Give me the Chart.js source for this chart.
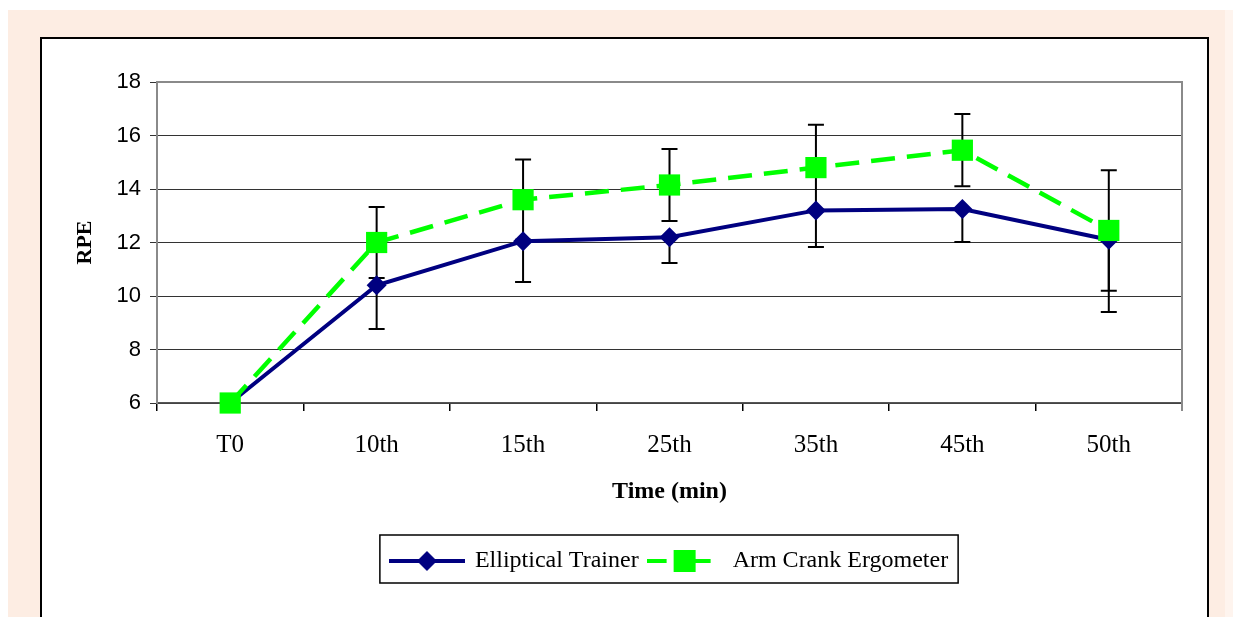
<!DOCTYPE html>
<html>
<head>
<meta charset="utf-8">
<script src="https://cdn.jsdelivr.net/npm/chart.js@4.4.1/dist/chart.umd.min.js"></script>
<style>
  body { margin: 0; background: #fff; width: 1234px; height: 617px; overflow: hidden; position: relative; }
  #peach { position: absolute; left: 8px; top: 10px; width: 1217px; height: 607px; background: #fdede3; }
  #peach2 { position: absolute; left: 1225px; top: 10px; width: 8px; height: 607px; background: #fef4ee; }
  #frame { position: absolute; left: 40px; top: 37px; width: 1169px; height: 620px; box-sizing: border-box; border: 2px solid #000; background: #fff; }
  #wrap { position: absolute; left: 42px; top: 39px; width: 1165px; height: 578px; }
</style>
</head>
<body>
<div id="peach"></div>
<div id="peach2"></div>
<div id="frame"></div>
<div id="wrap"><canvas id="myChart" width="1165" height="578"></canvas></div>
<script>
// values
var labels = ["T0", "10th", "15th", "25th", "35th", "45th", "50th"];
var elliptical = [6, 10.4, 12.05, 12.2, 13.2, 13.25, 12.1];
var ellipticalSD = [0, 1.63, 1.53, 0.97, 1.37, 1.23, 2.7];
var armCrank = [6, 12.0, 13.6, 14.15, 14.8, 15.45, 12.45];
var armCrankSD = [0, 1.33, 1.5, 1.35, 1.6, 1.35, 2.25];
var yTicks = [6, 8, 10, 12, 14, 16, 18];

var NAVY = "#000080";
var GREEN = "#00ff00";
var serif = "'Liberation Serif', 'Times New Roman', serif";
var sans = "'Liberation Sans', Arial, sans-serif";

// little line + marker pictures for the legend
function legendIcon(color, dash, marker) {
  var c = document.createElement("canvas");
  c.width = 76;
  c.height = 26;
  var g = c.getContext("2d");
  g.strokeStyle = color;
  g.lineWidth = 4;
  g.setLineDash(dash);
  g.beginPath();
  g.moveTo(0, 13);
  g.lineTo(76, 13);
  g.stroke();
  g.fillStyle = color;
  if (marker == "diamond") {
    g.beginPath();
    g.moveTo(38, 3);
    g.lineTo(48, 13);
    g.lineTo(38, 23);
    g.lineTo(28, 13);
    g.closePath();
    g.fill();
  } else {
    g.fillRect(27, 2, 22, 22);
  }
  return c;
}
var iconEll = legendIcon(NAVY, [], "diamond");
var iconArm = legendIcon(GREEN, [20, 24], "square");

// error bars, drawn under the lines and markers
var errorBars = {
  id: "errorBars",
  beforeDatasetsDraw: function (chart) {
    var ctx = chart.ctx;
    var a = chart.chartArea;
    var yScale = chart.scales.y;

    // grey plot frame
    ctx.save();
    ctx.strokeStyle = "#8a8a8a";
    ctx.lineWidth = 2;
    ctx.beginPath();
    ctx.moveTo(a.left, a.top);
    ctx.lineTo(a.right, a.top);
    ctx.lineTo(a.right, a.bottom + 8);
    ctx.stroke();
    ctx.restore();

    ctx.save();
    ctx.strokeStyle = "#000";
    ctx.lineWidth = 2;
    chart.data.datasets.forEach(function (ds, di) {
      var meta = chart.getDatasetMeta(di);
      ds.data.forEach(function (v, i) {
        var sd = ds.sd[i];
        if (!sd) return;
        var x = meta.data[i].x;
        var y0 = yScale.getPixelForValue(v);
        var yLo = yScale.getPixelForValue(v - sd);
        var yHi = yScale.getPixelForValue(v + sd);
        ctx.beginPath();
        ctx.moveTo(x, yLo);
        ctx.lineTo(x, ds.errPlus ? yHi : y0);
        ctx.moveTo(x - 8, yLo);
        ctx.lineTo(x + 8, yLo);
        if (ds.errPlus) {
          ctx.moveTo(x - 8, yHi);
          ctx.lineTo(x + 8, yHi);
        }
        ctx.stroke();
      });
    });
    ctx.restore();
  },
  afterDraw: function (chart) {
    // box round the legend
    var boxes = chart.legend.legendHitBoxes;
    if (!boxes || !boxes.length) return;
    var first = boxes[0];
    var last = boxes[boxes.length - 1];
    var ctx = chart.ctx;
    ctx.save();
    ctx.strokeStyle = "#000";
    ctx.lineWidth = 1.5;
    ctx.strokeRect(first.left - 11, first.top - 14, last.left + last.width - first.left + 21, first.height + 24);
    ctx.restore();
  }
};

var ctx = document.getElementById("myChart").getContext("2d");
var myChart = new Chart(ctx, {
  type: "line",
  data: {
    labels: labels,
    datasets: [
      {
        label: "Elliptical Trainer",
        data: elliptical,
        sd: ellipticalSD,
        errPlus: false,
        borderColor: NAVY,
        backgroundColor: NAVY,
        borderWidth: 4,
        pointStyle: "rectRot",
        pointRadius: 10,
        pointHoverRadius: 10,
        pointBorderWidth: 0,
        tension: 0,
        clip: false,
        order: 1
      },
      {
        label: "Arm Crank Ergometer",
        data: armCrank,
        sd: armCrankSD,
        errPlus: true,
        borderColor: GREEN,
        backgroundColor: GREEN,
        borderWidth: 4.5,
        borderDash: [24, 12],
        pointStyle: "rect",
        pointRadius: 15,
        pointHoverRadius: 15,
        pointBorderWidth: 0,
        tension: 0,
        clip: false,
        order: 0
      }
    ]
  },
  options: {
    responsive: false,
    animation: false,
    layout: { padding: { top: 43, right: 25, left: 0, bottom: 34 } },
    plugins: {
      tooltip: { enabled: false },
      legend: {
        position: "bottom",
        fullSize: false,
        labels: {
          usePointStyle: true,
          pointStyleWidth: 72,
          padding: 10,
          color: "#000",
          font: { family: serif, size: 24 },
          generateLabels: function (chart) {
            return [
              { text: "Elliptical Trainer", pointStyle: iconEll, datasetIndex: 0, hidden: false, lineWidth: 0 },
              { text: "Arm Crank Ergometer", pointStyle: iconArm, datasetIndex: 1, hidden: false, lineWidth: 0 }
            ];
          }
        }
      }
    },
    scales: {
      x: {
        offset: true,
        afterFit: function (axis) { axis.height = 136; },
        grid: { offset: true, drawOnChartArea: false, drawTicks: true, tickLength: 8, color: "#000", lineWidth: 1.5 },
        border: { color: "#555", width: 1.5 },
        ticks: { color: "#000", padding: 19, maxRotation: 0, font: { family: serif, size: 25 } },
        title: { display: true, text: "Time (min)", color: "#000", padding: { top: 0, bottom: 33 }, font: { family: serif, size: 24, weight: "bold" } }
      },
      y: {
        min: 6,
        max: 18,
        afterFit: function (axis) { axis.width = 115; },
        afterBuildTicks: function (axis) {
          axis.ticks = yTicks.map(function (v) { return { value: v }; });
        },
        grid: { color: "#333", lineWidth: 1, tickLength: 7, tickColor: "#333" },
        border: { color: "#8a8a8a", width: 2 },
        ticks: { color: "#000", padding: 9, font: { family: sans, size: 22 } },
        title: { display: true, text: "RPE", color: "#000", padding: { top: 30, bottom: 0 }, font: { family: serif, size: 22, weight: "bold" } }
      }
    }
  },
  plugins: [errorBars]
});
</script>
</body>
</html>
